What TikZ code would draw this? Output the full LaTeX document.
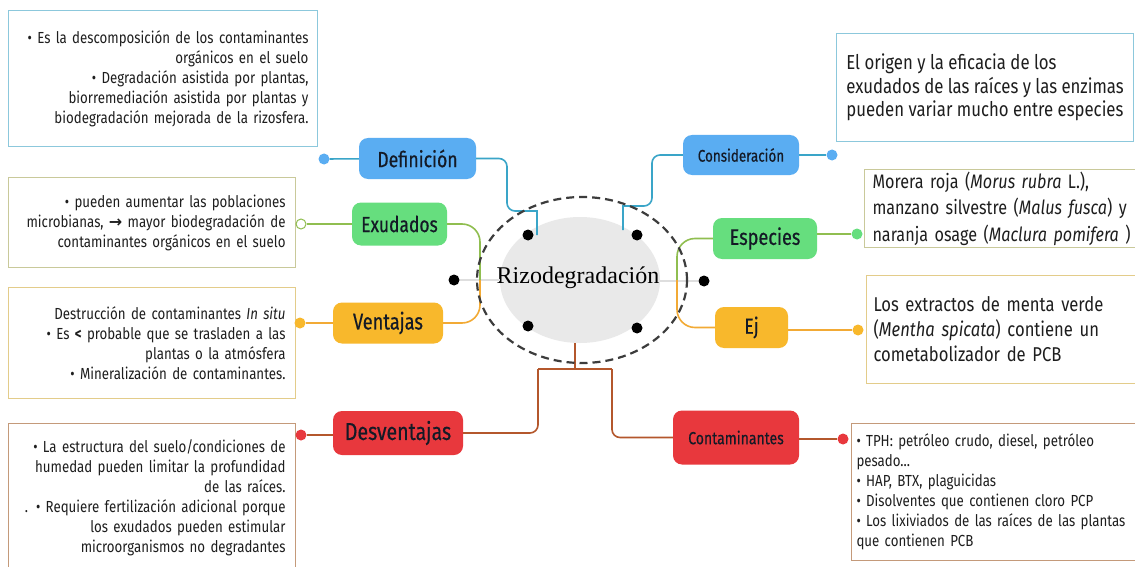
\documentclass[tikz,border=0pt]{standalone}
\usepackage{fontspec}
\setmainfont[FakeStretch=0.83]{Fira Sans}
\newfontfamily\labelfont[FakeStretch=0.8,FakeBold=0.5]{Fira Sans}
\newfontfamily\titlefont{Liberation Serif}
\newfontfamily\symfont{DejaVu Sans}
\usetikzlibrary{shapes.geometric}

\definecolor{txt}{HTML}{1E1E1E}
\definecolor{ntxt}{HTML}{141A26}
\definecolor{nblue}{HTML}{5AADF2}
\definecolor{lblue}{HTML}{3AA5C8}
\definecolor{bblue}{HTML}{8CC8DC}
\definecolor{ngreen}{HTML}{66DE7E}
\definecolor{lgreen}{HTML}{90BE50}
\definecolor{bgreen}{HTML}{C9C99A}
\definecolor{norange}{HTML}{F8B82C}
\definecolor{lorange}{HTML}{F2AA35}
\definecolor{borange}{HTML}{E3CC8A}
\definecolor{nred}{HTML}{E8383D}
\definecolor{lbrown}{HTML}{B4572C}
\definecolor{bbrown}{HTML}{C49A7A}
\definecolor{hubfill}{HTML}{E9E9E9}
\definecolor{ringcol}{HTML}{3C3C3C}

\begin{document}
\hyphenpenalty=10000
\begin{tikzpicture}[x=1pt,y=-1pt,
  topic/.style={rounded corners=9pt, inner sep=0pt, align=center, text=ntxt},
  detail/.style={draw, line width=1pt, inner ysep=0pt, text=txt, anchor=north west},
  small/.style={font=\fontsize{16}{20}\selectfont},
  large/.style={font=\fontsize{20.2}{23.5}\selectfont},
  dot/.style={circle, inner sep=0pt, minimum size=11pt},
  hubdot/.style={circle, fill=black, inner sep=0pt, minimum size=11pt},
  link/.style={line width=1.6pt}
]
\useasboundingbox[fill=white] (0,0) rectangle (1135,567);

% central topic
\node (hub) [ellipse, fill=hubfill, minimum width=160pt, minimum height=126pt, inner sep=0pt] at (580,280) {};
\node (hubtext) [font=\titlefont\fontsize{24}{28}\selectfont, text=black, inner sep=0pt] at (578,278) {Rizodegradación};

% main topics
\node (def) [topic, fill=nblue, minimum width=117pt, minimum height=41pt,
  font=\labelfont\fontsize{22}{24}\selectfont] at (417.5,158.5) {Definición};
\node (cons) [topic, fill=nblue, minimum width=116pt, minimum height=40pt,
  font=\labelfont\fontsize{16.8}{20}\selectfont] at (741,155) {Consideración};
\node (exud) [topic, fill=ngreen, minimum width=95pt, minimum height=43pt,
  font=\labelfont\fontsize{21.8}{24}\selectfont] at (399.5,224) {Exudados};
\node (esp) [topic, fill=ngreen, minimum width=104pt, minimum height=41pt,
  font=\labelfont\fontsize{22.6}{24}\selectfont] at (765,238.5) {Especies};
\node (vent) [topic, fill=norange, minimum width=110pt, minimum height=41pt,
  font=\labelfont\fontsize{22.8}{24}\selectfont] at (388,323) {Ventajas};
\node (ej) [topic, fill=norange, minimum width=73pt, minimum height=41pt,
  font=\labelfont\fontsize{22}{24}\selectfont] at (751.5,327.5) {Ej};
\node (desv) [topic, fill=nred, minimum width=130pt, minimum height=44pt,
  font=\labelfont\fontsize{24.5}{28}\selectfont] at (398,433) {Desventajas};
\node (cont) [topic, fill=nred, minimum width=126pt, minimum height=54pt,
  font=\labelfont\fontsize{17.5}{20}\selectfont] at (736,437.5) {Contaminantes};

% detail boxes
\node (defbox) [detail, small, draw=bblue, minimum width=309pt, minimum height=136pt,
  text width=291pt, inner xsep=9pt, align=right] at (8,10)
  {• Es la descomposición de los contaminantes\\ orgánicos en el suelo\\
   • Degradación asistida por plantas,\\ biorremediación asistida por plantas y\\
   biodegradación mejorada de la rizosfera.};
\node (exudbox) [detail, small, draw=bgreen, minimum width=287pt, minimum height=90pt,
  text width=267pt, inner xsep=10pt, align=right] at (8,177)
  {• pueden aumentar las poblaciones\\ microbianas, {\symfont\bfseries →} mayor biodegradación de\\
   contaminantes orgánicos en el suelo};
\node (ventbox) [detail, small, draw=borange, minimum width=287pt, minimum height=111pt,
  text width=267pt, inner xsep=10pt, align=right] at (8,287)
  {Destrucción de contaminantes \textit{In situ}\\ • Es \textbf{<} probable que se trasladen a las\\
   plantas o la atmósfera\\ • Mineralización de contaminantes.};
\node (desvbox) [detail, small, draw=bbrown, minimum width=287pt, minimum height=148pt,
  text width=267pt, inner xsep=10pt, align=right] at (8,423)
  {• La estructura del suelo/condiciones de\\ humedad pueden limitar la profundidad\\
   de las raíces.\\ . • Requiere fertilización adicional porque\\
   los exudados pueden estimular\\ microorganismos no degradantes};
\node (consbox) [detail, large, draw=bblue, minimum width=297pt, minimum height=108pt,
  inner xsep=0pt, align=left] at (836,33)
  {El origen y la eficacia de los\\ exudados de las raíces y las enzimas\\
   pueden variar mucho entre especies};
\node (espbox) [detail, draw=bgreen, minimum width=280pt, minimum height=78pt,
  text width=266pt, inner xsep=8pt, align=left, font=\fontsize{19.5}{26.5}\selectfont] at (864,169)
  {Morera roja (\textit{Morus rubra} L.),\\ manzano silvestre (\textit{Malus fusca}) y\\
   naranja osage (\textit{Maclura pomifera} )};
\node (ejbox) [detail, draw=borange, minimum width=280pt, minimum height=108pt,
  text width=266pt, inner xsep=7pt, align=left, font=\fontsize{20}{25}\selectfont] at (866,275)
  {Los extractos de menta verde\\ (\textit{Mentha spicata}) contiene un\\ cometabolizador de PCB};
\node (contbox) [detail, small, draw=bbrown, minimum width=290pt, minimum height=137pt,
  text width=280pt, inner xsep=5pt, align=left] at (851,423)
  {• TPH: petróleo crudo, diesel, petróleo\\ pesado...\\ • HAP, BTX, plaguicidas\\
   • Disolventes que contienen cloro PCP\\ • Los lixiviados de las raíces de las plantas\\
   que contienen PCB};

% end dots of the branches
\node (defdot) [dot, fill=nblue] at (324,159) {};
\node (consdot) [dot, fill=nblue] at (832,155) {};
\node (exuddot) [dot, fill=white, draw=lgreen, line width=1pt, minimum size=10pt] at (301,224) {};
\node (espdot) [dot, fill=ngreen] at (857,234) {};
\node (ventdot) [dot, fill=norange] at (300,323) {};
\node (ejdot) [dot, fill=norange] at (858,330) {};
\node (desvdot) [dot, fill=nred] at (301,435) {};
\node (contdot) [dot, fill=nred] at (843,439) {};

\draw[link, lblue] (defdot) -- (def);
\draw[link, lblue] (cons) -- (consdot);
\draw[link, lgreen] (exuddot) -- (exud);
\draw[link, lgreen] (espdot) -- (espdot -| esp.east);
\draw[link, lorange] (ventdot) -- (vent);
\draw[link, lorange] (ejdot) -- (ejdot -| ej.east);
\draw[link, lbrown] (desvdot) -- (desvdot -| desv.west);
\draw[link, lbrown] (contdot) -- (contdot -| cont.east);

% grey spokes and black handles of the central topic
\node (hw) [hubdot] at (454,280) {};
\node (he) [hubdot] at (704,281) {};
\node (hnw) [hubdot] at (528,235) {};
\node (hne) [hubdot] at (637,235) {};
\node (hsw) [hubdot] at (528,326) {};
\node (hse) [hubdot] at (637,328) {};
\draw[line width=2.5pt, black!13] (hw) -- (hw -| hub.west);
\draw[line width=2.5pt, black!13] (he -| hub.east) -- (he);

% branch connectors
\coordinate (defend) at (537,235);
\coordinate (consend) at (623,230);
\draw[link, lblue] (def.east) [rounded corners=8pt] -- (507,158.5) -- (507,211) [sharp corners] -- (537,211) -- (defend);
\draw[link, lblue] (cons.west) [rounded corners=8pt] -- (652,155) -- (652,206) [sharp corners] -- (623,206) -- (consend);
\draw[link, lgreen, rounded corners=18pt] (exud.east) -| (480,284);
\draw[link, lorange, rounded corners=18pt] (vent.east) -| (480,280);
\draw[link, lgreen, rounded corners=18pt] (esp.west) -| (677,284);
\draw[link, lorange, rounded corners=18pt] (ej.west) -| (677,280);

\coordinate (split) at (575,369);
\draw[link, lbrown] (hub.south -| split) -- (split);
\draw[link, lbrown] (538,369) -- (612,369);
\draw[link, lbrown, rounded corners=8pt] (538,369) |- (desv.east);
\draw[link, lbrown, rounded corners=8pt] (612,369) |- (cont.west);

% dashed ring round the central topic
\node (ring) [ellipse, draw=ringcol, line width=2.2pt, dash pattern=on 8pt off 5pt,
  minimum width=210pt, minimum height=166pt, inner sep=0pt] at (582,280) {};
\end{tikzpicture}
\end{document}
